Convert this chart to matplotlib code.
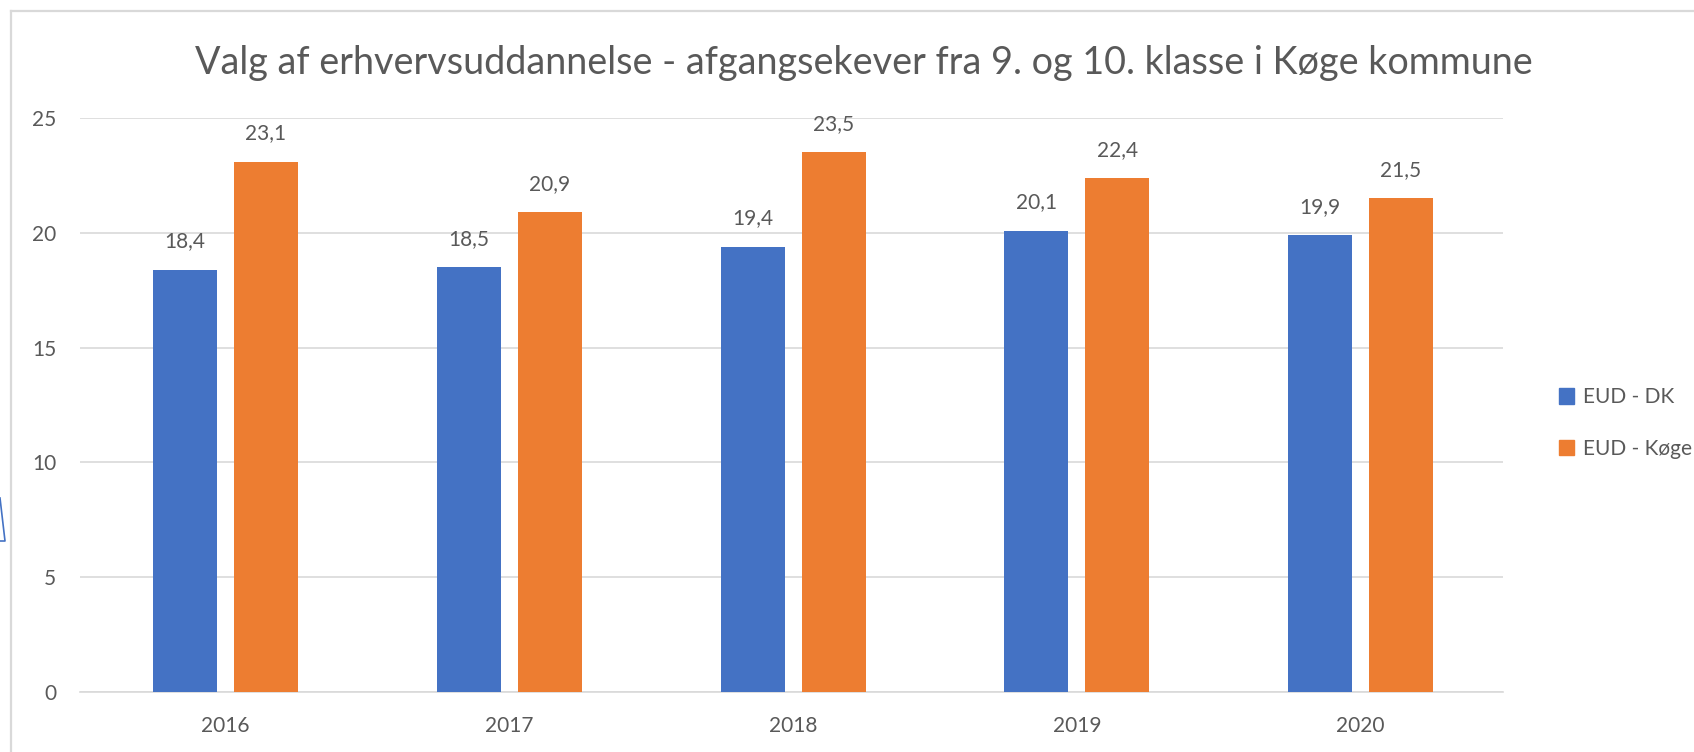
import matplotlib

matplotlib.use("Agg")
import matplotlib.pyplot as plt
from matplotlib.lines import Line2D
from matplotlib.patches import Patch

# data
years = ["2016", "2017", "2018", "2019", "2020"]
eud_dk = [18.4, 18.5, 19.4, 20.1, 19.9]
eud_koge = [23.1, 20.9, 23.5, 22.4, 21.5]
series_names = ["EUD - DK", "EUD - Køge"]
title = "Valg af erhvervsuddannelse - afgangsekever fra 9. og 10. klasse i Køge kommune"

BLUE = "#4472C4"
ORANGE = "#ED7D31"
TEXT = "#595959"
GRID = "#D9D9D9"

plt.rcParams["font.family"] = ["Lato", "DejaVu Sans"]

W, H = 1694, 752
fig = plt.figure(figsize=(W / 100, H / 100), dpi=100)
fig.patch.set_facecolor("white")

ax = fig.add_axes([80 / W, 1 - 692 / H, (1503 - 80) / W, (692 - 118) / H])
ax.set_facecolor("white")

x = list(range(len(years)))
offset, width = 0.1427, 0.2256
b1 = ax.bar([i - offset for i in x], eud_dk, width, color=BLUE, zorder=3)
b2 = ax.bar([i + offset for i in x], eud_koge, width, color=ORANGE, zorder=3)

for bars, vals in ((b1, eud_dk), (b2, eud_koge)):
    for bar, v in zip(bars, vals):
        ax.annotate(f"{v:.1f}".replace(".", ","),
                    (bar.get_x() + bar.get_width() / 2, v),
                    textcoords="offset points", xytext=(0, 13),
                    ha="center", va="bottom", color=TEXT, fontsize=15)

ax.set_ylim(0, 25)
ax.set_xlim(-0.513, 4.502)
ax.set_yticks([0, 5, 10, 15, 20, 25])
ax.set_xticks(x)
ax.set_xticklabels(years)
ax.grid(axis="y", color=GRID, linewidth=1.2, zorder=0)
ax.tick_params(length=0, labelsize=15, labelcolor=TEXT)
ax.tick_params(axis="y", pad=17)
ax.tick_params(axis="x", pad=17)
for s in ("top", "right", "left"):
    ax.spines[s].set_visible(False)
ax.spines["bottom"].set_color(GRID)
ax.spines["bottom"].set_linewidth(1.2)

fig.text(864 / W, 1 - 63 / H, title, ha="center", va="center",
         color=TEXT, fontsize=27.2)

handles = [Patch(color=BLUE), Patch(color=ORANGE)]
fig.legend(handles, series_names, loc="center left",
           bbox_to_anchor=(1540 / W, 1 - 423 / H), frameon=False,
           fontsize=15, labelcolor=TEXT, handlelength=0.75, handleheight=0.75,
           handletextpad=0.4, labelspacing=1.5)

# chart frame (grey) and the stray blue callout edge at the left
fig.add_artist(Line2D([11 / W, 11 / W], [0, 1 - 11 / H], color=GRID,
                      linewidth=1.6, transform=fig.transFigure))
fig.add_artist(Line2D([11 / W, 1], [1 - 11 / H, 1 - 11 / H], color=GRID,
                      linewidth=1.6, transform=fig.transFigure))
fig.add_artist(Line2D([0, 5 / W, 0], [1 - 498 / H, 1 - 541 / H, 1 - 541 / H],
                      color=BLUE, linewidth=1.2, transform=fig.transFigure))

fig.savefig("out.png", dpi=100, facecolor="white")
